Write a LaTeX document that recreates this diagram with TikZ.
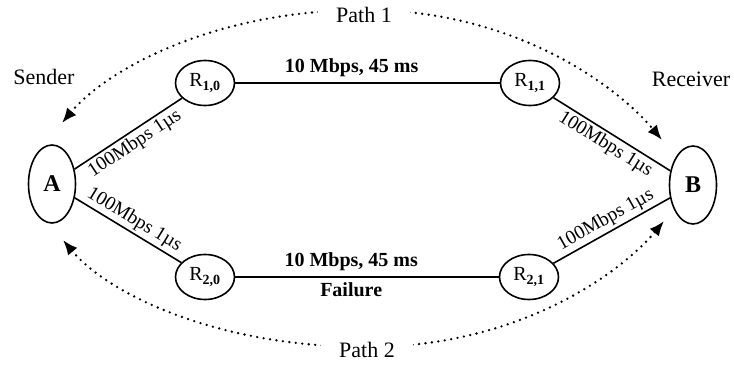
\documentclass[tikz,border=0pt]{standalone}
\usepackage{fontspec}
\setmainfont{Liberation Serif}
\usetikzlibrary{arrows.meta,shapes.geometric}
\tikzset{
  host/.style={draw, ellipse, line width=1.6pt, minimum width=47pt, minimum height=78pt,
    inner sep=0pt, font=\fontsize{24}{24}\selectfont\bfseries},
  router/.style={draw, ellipse, line width=1.6pt, minimum width=59pt, minimum height=45pt,
    inner sep=0pt, font=\fontsize{20}{20}\selectfont},
  link/.style={line width=1.6pt},
  linklabel/.style={font=\fontsize{19.5}{19.5}\selectfont, sloped, inner sep=2.5pt},
  trunklabel/.style={font=\fontsize{20}{20}\selectfont\bfseries, inner sep=5pt},
  pathcurve/.style={line width=2.6pt, line cap=round, dash pattern=on 0pt off 6.5pt,
    {Latex[length=15pt,width=12pt]}-{Latex[length=15pt,width=12pt]}},
  pathlabel/.style={fill=white, font=\fontsize{22}{22}\selectfont, inner xsep=18pt},
  side/.style={font=\fontsize{22}{22}\selectfont}
}
\begin{document}
\begin{tikzpicture}[x=1pt, y=1pt]
  \useasboundingbox (0,0) rectangle (734,365);

  % end hosts and routers
  \node[host] (A) at (52,181) {A};
  \node[host] (B) at (693,180) {B};
  \node[router] (R10) at (205,282) {R\textsubscript{\textbf{1,0}}};
  \node[router] (R11) at (530,282) {R\textsubscript{\textbf{1,1}}};
  \node[router] (R20) at (205,88) {R\textsubscript{\textbf{2,0}}};
  \node[router] (R21) at (529,88) {R\textsubscript{\textbf{2,1}}};

  \node[side] (snd) at (44,288) {Sender};
  \node[side] (rcv) at (691,286) {Receiver};

  % access links
  \draw[link] (A) -- node[linklabel, below, pos=0.5] {100Mbps 1µs} (R10);
  \draw[link] (A) -- node[linklabel, above, pos=0.5] {100Mbps 1µs} (R20);
  \draw[link] (R11) -- node[linklabel, below, pos=0.5] {100Mbps 1µs} (B);
  \draw[link] (R21) -- node[linklabel, above, pos=0.5] {100Mbps 1µs} (B);

  % bottleneck links
  \draw[link] (R10) -- node[trunklabel, above, pos=0.44] {10 Mbps, 45 ms} (R11);
  \draw[link] (R20) -- node[trunklabel, above, pos=0.44] {10 Mbps, 45 ms}
                       node[trunklabel, below, pos=0.44] {Failure} (R21);

  % the two paths
  \coordinate (p1a) at (62,242);
  \coordinate (p1m) at (365,355);
  \coordinate (p1b) at (662,225);
  \coordinate (p2a) at (63,125);
  \coordinate (p2m) at (367,18);
  \coordinate (p2b) at (664,144);
  \draw[pathcurve] (p1a) .. controls (107,296) and (215,355) .. (p1m)
                         .. controls (515,355) and (617,279) .. (p1b);
  \draw[pathcurve] (p2a) .. controls (108,71) and (217,18) .. (p2m)
                         .. controls (517,18) and (619,90) .. (p2b);
  \node[pathlabel] (path1) at (364,350) {Path 1};
  \node[pathlabel] (path2) at (367,15) {Path 2};
\end{tikzpicture}
\end{document}
